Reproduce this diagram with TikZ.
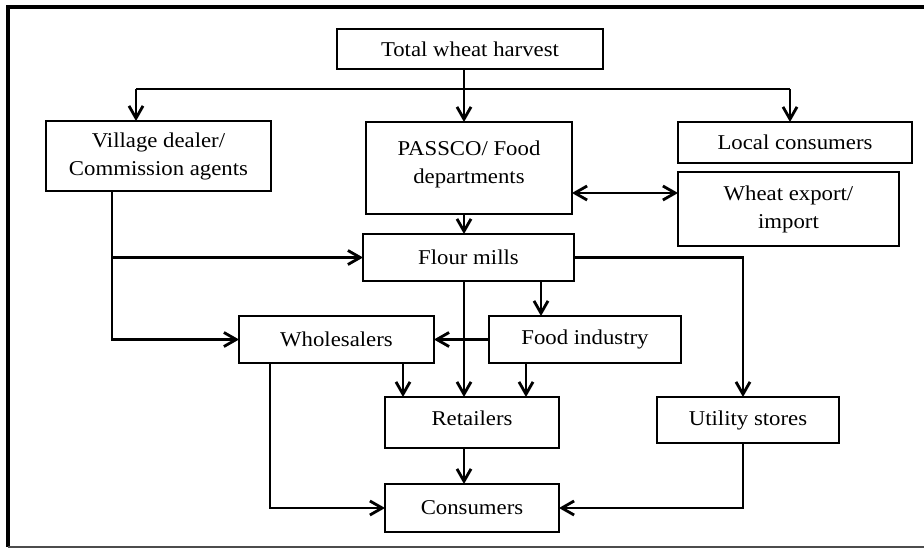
\documentclass[tikz,border=0pt]{standalone}
\usepackage{fontspec}
\setmainfont{Liberation Serif}[FakeStretch=1.08]
\usetikzlibrary{arrows.meta, positioning, calc}
\tikzset{
  box/.style={
    rectangle, draw=black, line width=1.1pt, fill=white,
    minimum width=#1, inner sep=0pt, outer sep=0pt, align=center,
    font=\fontsize{12}{15.9}\selectfont
  },
  arrow/.style={-{Straight Barb[length=7pt, width=8pt]}, line width=1.6pt},
  darrow/.style={{Straight Barb[length=7pt, width=8pt]}-{Straight Barb[length=7pt, width=8pt]}, line width=1.6pt},
  wire/.style={line width=1.6pt},
}

\begin{document}
\begin{tikzpicture}[x=0.02cm, y=-0.02cm]
  \useasboundingbox (0,0) rectangle (924,548);

  % frame
  \draw[line width=2.2pt] (8,547) -- (8,7) -- (930,7);
  \draw[line width=0.8pt, black!70] (8,547) -- (930,547);

  % boxes
  \node[box=5.32cm, minimum height=0.80cm] (harvest) at (470,49) {Total wheat harvest};
  \node[box=4.50cm, minimum height=1.40cm] (village) at (158.5,156) {Village dealer/\\Commission agents};
  \node[box=4.12cm, minimum height=1.84cm] (passco) at (469,168) {PASSCO/ Food\\departments\\[-0.75em]\mbox{}};
  \node[box=4.68cm, minimum height=0.82cm] (local) at (795,142.5) {Local consumers};
  \node[box=4.42cm, minimum height=1.48cm] (export) at (788.5,209) {Wheat export/\\import};
  \node[box=4.22cm, minimum height=0.94cm] (flour) at (468.5,257.5) {Flour mills};
  \node[box=3.90cm, minimum height=0.94cm] (whole) at (336.5,339.5) {Wholesalers};
  \node[box=3.84cm, minimum height=0.94cm] (food) at (585,339.5) {Food industry};
  \node[box=3.48cm, minimum height=1.02cm] (retail) at (472,422.5) {Retailers\\[-0.9em]\mbox{}};
  \node[box=3.64cm, minimum height=0.92cm] (utility) at (748,420) {Utility stores};
  \node[box=3.48cm, minimum height=0.96cm] (consumer) at (472,508) {Consumers};

  % lanes for the connectors
  \coordinate (busL) at (136,89);
  \coordinate (busR) at (790,89);
  \coordinate (laneA) at (112,0);
  \coordinate (laneB) at (464,0);
  \coordinate (laneC) at (541,0);
  \coordinate (laneD) at (743,0);
  \coordinate (laneE) at (270,0);
  \coordinate (laneF) at (403,0);
  \coordinate (laneG) at (526,0);
  \coordinate (ex) at (0,193);

  % from the harvest
  \draw[wire] (harvest.south -| laneB) -- (laneB |- busL);
  \draw[wire] (busL) -- (busR);
  \draw[arrow] (busL) -- (busL |- village.north);
  \draw[arrow] (laneB |- busL) -- (passco.north -| laneB);
  \draw[arrow] (busR) -- (busR |- local.north);

  % middle
  \draw[arrow] (passco.south -| laneB) -- (flour.north -| laneB);
  \draw[darrow] (passco.east |- ex) -- (export.west |- ex);
  \draw[arrow] (village.south -| laneA) -- (laneA |- whole.west) -- (whole.west);
  \draw[arrow] (laneA |- flour.west) -- (flour.west);
  \draw[arrow] (flour.south -| laneB) -- (retail.north -| laneB);
  \draw[arrow] (flour.south -| laneC) -- (food.north -| laneC);
  \draw[arrow] (flour.east) -| (utility.north -| laneD);
  \draw[arrow] (food.west) -- (whole.east);

  % to retailers and consumers
  \draw[arrow] (whole.south -| laneF) -- (retail.north -| laneF);
  \draw[arrow] (food.south -| laneG) -- (retail.north -| laneG);
  \draw[arrow] (retail.south -| laneB) -- (consumer.north -| laneB);
  \draw[arrow] (whole.south -| laneE) |- (consumer.west);
  \draw[arrow] (utility.south -| laneD) |- (consumer.east);

\end{tikzpicture}
\end{document}
